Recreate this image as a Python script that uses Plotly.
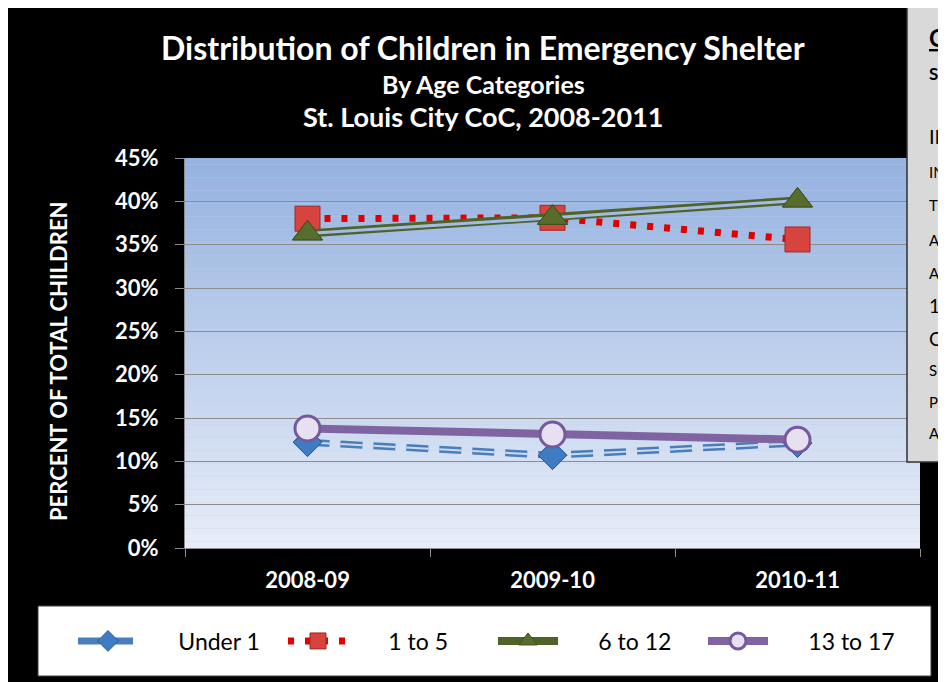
import plotly.graph_objects as go

# figure size (the page adds an 8px white margin at top/left) and plot area, px
W, H = 938, 674
L, R, T, B = 177, 912, 150, 540

seasons = ["2008-09", "2009-10", "2010-11"]
under_1 = [12.2, 10.7, 12.1]
age_1_to_5 = [38.0, 38.1, 35.6]
age_6_to_12 = [36.3, 38.1, 40.1]
age_13_to_17 = [13.8, 13.1, 12.5]
y_ticks = [0, 5, 10, 15, 20, 25, 30, 35, 40, 45]
y_labels = ["%d%%" % v for v in y_ticks]

# fragments of the side note that show at the right edge
note_lines = ["IN", "IN", "TH", "AF", "AN", "12", "CH", "SC", "PR", "AL"]

FONT = "Lato"
BG_TOP = (149, 178, 224)
BG_BOT = (231, 237, 248)
PAD = "\u00a0" * 6


def px_x(p):
    return (p - L) / (R - L)


def px_y(p):
    return (B - p) / (B - T)


fig = go.Figure()

diamond = dict(symbol="diamond", size=22, color="#3f7cc4",
               line=dict(color="#2a5a94", width=1))
triangle = dict(symbol="triangle-up", size=26, color="#566d2b",
                line=dict(color="#3d4f1c", width=1))

# Under 1: blue dashed "pill" line with diamonds
fig.add_trace(go.Scatter(
    x=seasons, y=under_1, name=PAD + "Under 1", legendgroup="u1",
    mode="lines+markers",
    line=dict(color="#4a7ebb", width=7, dash="22px,11px"),
    marker=diamond,
))
fig.add_trace(go.Scatter(
    x=seasons, y=under_1, legendgroup="u1", showlegend=False, hoverinfo="skip",
    mode="lines", line=dict(color="#c9dbf2", width=2, dash="22px,11px"),
))
fig.add_trace(go.Scatter(
    x=seasons, y=under_1, legendgroup="u1", showlegend=False, hoverinfo="skip",
    mode="markers", marker=diamond,
))

# 1 to 5: red dotted line with squares
fig.add_trace(go.Scatter(
    x=seasons, y=age_1_to_5, name=PAD + "1 to 5",
    mode="lines+markers",
    line=dict(color="#e00000", width=7, dash="6px,11px"),
    marker=dict(symbol="square", size=25, color="#d7433f",
                line=dict(color="#9e2a27", width=1)),
))

# 6 to 12: olive double line with triangles
fig.add_trace(go.Scatter(
    x=seasons, y=age_6_to_12, name=PAD + "6 to 12", legendgroup="g",
    mode="lines+markers",
    line=dict(color="#4f6228", width=8),
    marker=triangle,
))
fig.add_trace(go.Scatter(
    x=seasons, y=age_6_to_12, legendgroup="g", showlegend=False, hoverinfo="skip",
    mode="lines", line=dict(color="#a4bce4", width=3),
))
fig.add_trace(go.Scatter(
    x=seasons, y=age_6_to_12, legendgroup="g", showlegend=False, hoverinfo="skip",
    mode="markers", marker=triangle,
))

# 13 to 17: thick purple line with circles
fig.add_trace(go.Scatter(
    x=seasons, y=age_13_to_17, name=PAD + "13 to 17",
    mode="lines+markers",
    line=dict(color="#8064a2", width=8),
    marker=dict(symbol="circle", size=25, color="#e6e0f0",
                line=dict(color="#76589c", width=3)),
))

shapes = [
    # legend box
    dict(type="rect", xref="paper", yref="paper", layer="below",
         x0=px_x(30), x1=px_x(923), y0=px_y(598), y1=px_y(668),
         fillcolor="white", line=dict(color="#404040", width=1)),
    # side note box, cut by the right edge
    dict(type="rect", xref="paper", yref="paper", layer="above",
         x0=px_x(899), x1=px_x(W + 20), y0=px_y(-3), y1=px_y(454),
         fillcolor="#d9d9d9", line=dict(color="#303030", width=1.5)),
]

# vertical gradient behind the plot area
n = 60
for i in range(n):
    t = i / (n - 1)
    c = tuple(round(BG_BOT[k] + (BG_TOP[k] - BG_BOT[k]) * t) for k in range(3))
    shapes.append(dict(
        type="rect", xref="x domain", yref="y domain", layer="below",
        x0=0, x1=1, y0=i / n, y1=(i + 1) / n,
        fillcolor="rgb(%d,%d,%d)" % c, line=dict(width=0),
    ))

annotations = [
    dict(text="Distribution of Children in Emergency Shelter", x=px_x(475), y=px_y(40),
         font=dict(family=FONT, color="white", size=32, weight="bold")),
    dict(text="By Age Categories", x=px_x(475), y=px_y(76),
         font=dict(family=FONT, color="white", size=25, weight="bold")),
    dict(text="St. Louis City CoC, 2008-2011", x=px_x(475), y=px_y(109),
         font=dict(family=FONT, color="white", size=27, weight="bold")),
    dict(text="PERCENT OF TOTAL CHILDREN", x=px_x(50), y=px_y(354), textangle=-90,
         font=dict(family=FONT, color="white", size=22, weight="bold")),
    dict(text="<u>C</u>", x=px_x(919), y=px_y(29), xanchor="left",
         font=dict(family=FONT, color="black", size=24, weight="bold")),
    dict(text="ST", x=px_x(919), y=px_y(65), xanchor="left",
         font=dict(family=FONT, color="black", size=17, weight="bold")),
]
note_y = [128, 164, 197, 232, 265, 297, 330, 362, 394, 425]
note_size = [20, 15, 15, 15, 15, 19, 19, 15, 15, 15]
for txt, yy, sz in zip(note_lines, note_y, note_size):
    annotations.append(dict(text=txt, x=px_x(919), y=px_y(yy), xanchor="left",
                            font=dict(family=FONT, color="black", size=sz)))
for a in annotations:
    a.update(xref="paper", yref="paper", showarrow=False)
    a.setdefault("xanchor", "center")
    a.setdefault("yanchor", "middle")

fig.update_layout(
    width=W, height=H,
    margin=dict(l=L, r=W - R, t=T, b=H - B, pad=0),
    paper_bgcolor="black",
    plot_bgcolor="#c0d0ec",
    font=dict(family=FONT),
    shapes=shapes,
    annotations=annotations,
    showlegend=True,
    legend=dict(
        orientation="h", x=px_x(65), y=px_y(633), xanchor="left", yanchor="middle",
        bgcolor="rgba(0,0,0,0)", font=dict(family=FONT, size=23, color="black"),
        entrywidth=135, entrywidthmode="pixels", itemwidth=60,
        traceorder="normal",
    ),
    xaxis=dict(
        type="category", categoryorder="array", categoryarray=seasons,
        range=[-0.5, 2.5], tickson="boundaries", ticks="outside", ticklen=8,
        tickcolor="#8c8c8c", showline=True, linecolor="#8c8c8c", linewidth=1,
        showgrid=False, tickfont=dict(family=FONT, color="white", size=22, weight="bold"),
        ticklabelstandoff=13, fixedrange=True,
    ),
    yaxis=dict(
        range=[0, 45], tickvals=y_ticks, ticktext=y_labels, ticks="outside", ticklen=9,
        tickcolor="#8c8c8c", showline=True, linecolor="#8c8c8c", linewidth=1,
        showgrid=True, gridcolor="#8c8c8c", gridwidth=1, zeroline=False,
        tickfont=dict(family=FONT, color="white", size=22, weight="bold"),
        ticklabelstandoff=12, fixedrange=True,
    ),
)

# keep the page from growing scrollbars
fig.write_html("out.html", post_script="document.body.style.overflow='hidden';")
